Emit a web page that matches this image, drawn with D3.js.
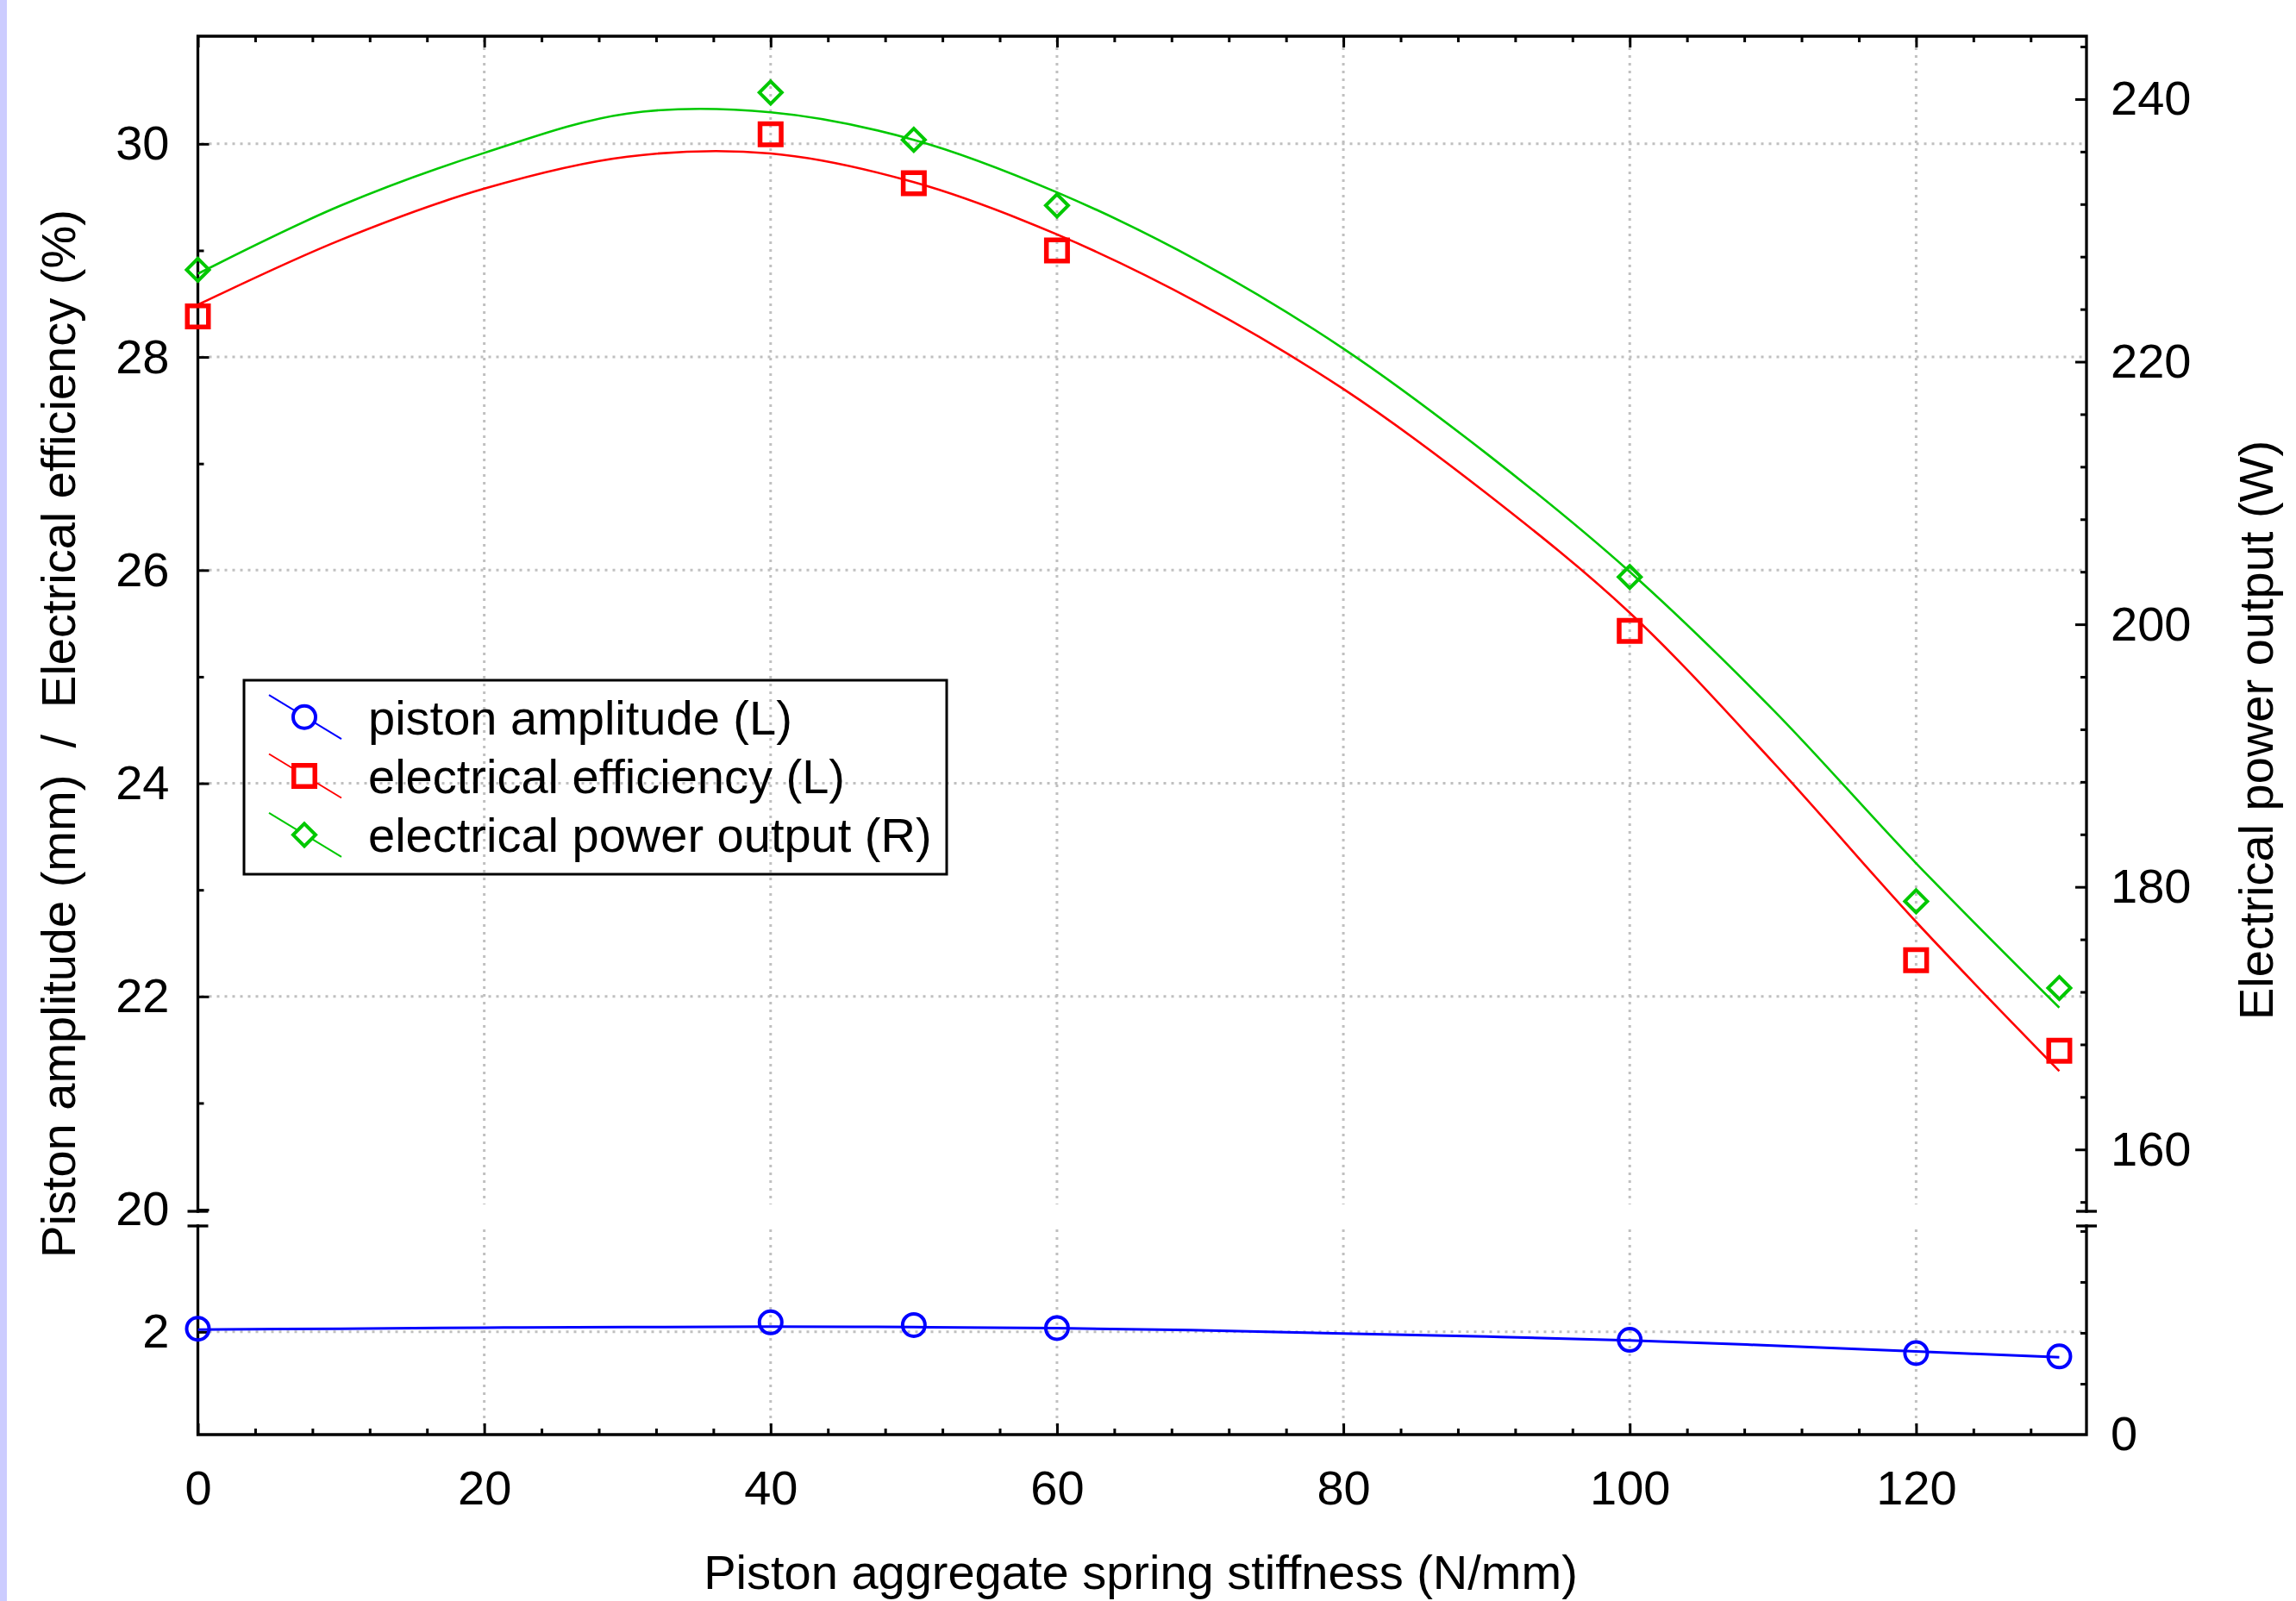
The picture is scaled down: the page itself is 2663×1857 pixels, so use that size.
<!DOCTYPE html>
<html>
<head>
<meta charset="utf-8">
<script src="https://cdn.jsdelivr.net/npm/d3@7"></script>
<style>
  body { margin: 0; background: #fff; }
  svg text { font-family: "Liberation Sans", Arial, sans-serif; }
</style>
</head>
<body>
<script>
// Measured points
const stiffness = [0, 40, 50, 60, 100, 120, 130];
const amplitude = [2.03, 2.09, 2.064, 2.036, 1.925, 1.80, 1.768];
const efficiency = [28.38, 30.09, 29.63, 29.00, 25.43, 22.34, 21.49];
const power = [227.0, 240.5, 236.9, 231.9, 203.6, 178.9, 172.3];

// Fitted curves
const fitX = [0, 10, 20, 30, 40, 50, 60, 70, 80, 90, 100, 110, 120, 130];
const amplitudeFit = [2.022, 2.03, 2.04, 2.045, 2.05, 2.045, 2.035, 2.015, 1.985, 1.955, 1.92, 1.87, 1.815, 1.76];
const efficiencyFit = [28.49, 29.10, 29.58, 29.88, 29.91, 29.64, 29.15, 28.50, 27.70, 26.72, 25.60, 24.20, 22.70, 21.30];
const powerFit = [226.7, 231.9, 235.9, 238.9, 239.0, 236.9, 232.9, 227.6, 221.0, 213.0, 204.0, 193.5, 181.8, 170.8];

// Ticks
const xTicks = [0, 20, 40, 60, 80, 100, 120];
const effTicks = [20, 22, 24, 26, 28, 30];
const powerTicks = [160, 180, 200, 220, 240];
const ampTicks = [2];
const powerLowTicks = [0];

const legendNames = ['piston amplitude (L)', 'electrical efficiency (L)', 'electrical power output (R)'];
const colors = ['#0000ff', '#ff0000', '#00c800'];

// Layout
const plotLeft = 229.5, plotRight = 2420, plotTop = 42;
const upperBottom = 1405, lowerTop = 1422, plotBottom = 1664;
const font = 56;

const svg = d3.select('body')
  .append('svg')
  .attr('width', 2663)
  .attr('height', 1857);

svg.append('rect')
  .attr('width', 8)
  .attr('height', 1857)
  .attr('fill', '#ccccff');

// Scales
const x = d3.scaleLinear().domain([0, 131.9]).range([plotLeft, plotRight]);
const yEff = d3.scaleLinear().domain([19.984, 31.01]).range([upperBottom, plotTop]);
const yPow = d3.scaleLinear().domain([155.29, 244.79]).range([upperBottom, plotTop]);
const yAmp = d3.scaleLinear().domain([1.03, 3]).range([plotBottom, lowerTop]);
const yPowLow = d3.scaleLinear().domain([0, 16.4]).range([plotBottom, lowerTop]);

// Grid
const grid = svg.append('g')
  .attr('stroke', '#c0c0c0')
  .attr('stroke-width', 3)
  .attr('stroke-dasharray', '3,6');

xTicks.filter(d => d > 0).forEach(d => {
  grid.append('line').attr('x1', x(d)).attr('x2', x(d)).attr('y1', plotTop + 4).attr('y2', upperBottom - 8);
  grid.append('line').attr('x1', x(d)).attr('x2', x(d)).attr('y1', lowerTop + 4).attr('y2', plotBottom - 4);
});
effTicks.filter(d => d > 20).forEach(d => {
  grid.append('line').attr('x1', plotLeft + 4).attr('x2', plotRight - 4).attr('y1', yEff(d)).attr('y2', yEff(d));
});
ampTicks.forEach(d => {
  grid.append('line').attr('x1', plotLeft + 4).attr('x2', plotRight - 4).attr('y1', yAmp(d)).attr('y2', yAmp(d));
});

// Axis helper
function styleAxis(g) {
  g.select('.domain').remove();
  g.attr('font-size', font).attr('font-family', null);
  g.selectAll('line').attr('stroke', '#000').attr('stroke-width', 3);
  g.selectAll('text').attr('fill', '#000');
}

const minorX = d3.range(4, 132, 4).filter(d => d % 20 !== 0);
const minorEff = [21, 23, 25, 27, 29];
const minorPow = d3.range(156, 245, 4).filter(d => d % 20 !== 0);
const minorPowLow = [4, 8, 12, 16];

// Bottom and top axes
svg.append('g').attr('transform', `translate(0,${plotBottom})`)
  .call(d3.axisBottom(x).tickValues(xTicks).tickSize(-13).tickPadding(41)).call(styleAxis);
svg.append('g').attr('transform', `translate(0,${plotBottom})`)
  .call(d3.axisBottom(x).tickValues(minorX).tickSize(-7).tickFormat('')).call(styleAxis);
svg.append('g').attr('transform', `translate(0,${plotTop})`)
  .call(d3.axisTop(x).tickValues(xTicks).tickSize(-13).tickFormat('')).call(styleAxis);
svg.append('g').attr('transform', `translate(0,${plotTop})`)
  .call(d3.axisTop(x).tickValues(minorX).tickSize(-7).tickFormat('')).call(styleAxis);

// Left axes
svg.append('g').attr('transform', `translate(${plotLeft},0)`)
  .call(d3.axisLeft(yEff).tickValues(effTicks).tickSize(-13).tickPadding(33)).call(styleAxis);
svg.append('g').attr('transform', `translate(${plotLeft},0)`)
  .call(d3.axisLeft(yEff).tickValues(minorEff).tickSize(-7).tickFormat('')).call(styleAxis);
svg.append('g').attr('transform', `translate(${plotLeft},0)`)
  .call(d3.axisLeft(yAmp).tickValues(ampTicks).tickSize(-13).tickPadding(33).tickFormat(d3.format('d'))).call(styleAxis);

// Right axes
svg.append('g').attr('transform', `translate(${plotRight},0)`)
  .call(d3.axisRight(yPow).tickValues(powerTicks).tickSize(-13).tickPadding(28)).call(styleAxis);
svg.append('g').attr('transform', `translate(${plotRight},0)`)
  .call(d3.axisRight(yPow).tickValues(minorPow).tickSize(-7).tickFormat('')).call(styleAxis);
svg.append('g').attr('transform', `translate(${plotRight},0)`)
  .call(d3.axisRight(yPowLow).tickValues(powerLowTicks).tickSize(0).tickPadding(28)).call(styleAxis);
svg.append('g').attr('transform', `translate(${plotRight},0)`)
  .call(d3.axisRight(yPowLow).tickValues(minorPowLow).tickSize(-7).tickFormat('')).call(styleAxis);

// Frame with axis breaks
svg.append('path')
  .attr('d', `M${plotLeft},${plotTop}H${plotRight}M${plotLeft},${plotBottom}H${plotRight}` +
    `M${plotLeft},${plotTop}V${upperBottom}M${plotLeft},${lowerTop}V${plotBottom}` +
    `M${plotRight},${plotTop}V${upperBottom}M${plotRight},${lowerTop}V${plotBottom}`)
  .attr('fill', 'none')
  .attr('stroke', '#000')
  .attr('stroke-width', 3.3)
  .attr('stroke-linecap', 'square');

[plotLeft, plotRight].forEach(ax => {
  [upperBottom, lowerTop].forEach(by => {
    svg.append('line')
      .attr('x1', ax - 12).attr('x2', ax + 12)
      .attr('y1', by).attr('y2', by)
      .attr('stroke', '#000').attr('stroke-width', 3.3);
  });
});

// Fitted lines
const fits = [
  { values: amplitudeFit, y: yAmp, color: colors[0] },
  { values: efficiencyFit, y: yEff, color: colors[1] },
  { values: powerFit, y: yPow, color: colors[2] }
];
fits.forEach(f => {
  const line = d3.line()
    .x((d, i) => x(fitX[i]))
    .y(d => f.y(d))
    .curve(d3.curveCatmullRom);
  svg.append('path')
    .datum(f.values)
    .attr('d', line)
    .attr('fill', 'none')
    .attr('stroke', f.color)
    .attr('stroke-width', f.y === yAmp ? 3 : 2.6);
});

// Markers
const circlePath = 'M13,0A13,13 0 1,1 -13,0A13,13 0 1,1 13,0Z';
const squarePath = 'M-12.25,-12.25H12.25V12.25H-12.25Z';
const diamondPath = 'M0,-13L13,0L0,13L-13,0Z';

svg.append('g').selectAll('path')
  .data(amplitude).enter().append('path')
  .attr('d', circlePath)
  .attr('transform', (d, i) => `translate(${x(stiffness[i])},${yAmp(d)})`)
  .attr('fill', 'none').attr('stroke', colors[0]).attr('stroke-width', 4);

svg.append('g').selectAll('path')
  .data(efficiency).enter().append('path')
  .attr('d', squarePath)
  .attr('transform', (d, i) => `translate(${x(stiffness[i])},${yEff(d)})`)
  .attr('fill', 'none').attr('stroke', colors[1]).attr('stroke-width', 5.5);

svg.append('g').selectAll('path')
  .data(power).enter().append('path')
  .attr('d', diamondPath)
  .attr('transform', (d, i) => `translate(${x(stiffness[i])},${yPow(d)})`)
  .attr('fill', 'none').attr('stroke', colors[2]).attr('stroke-width', 4);

// Legend
const legend = svg.append('g');
legend.append('rect')
  .attr('x', 283).attr('y', 789).attr('width', 815).attr('height', 225)
  .attr('fill', 'none').attr('stroke', '#000').attr('stroke-width', 3);

const markerPaths = [circlePath, squarePath, diamondPath];
const markerWidths = [4, 5.5, 4];
legendNames.forEach((name, i) => {
  const cy = 831.7 + i * 68.3;
  legend.append('line')
    .attr('x1', 312).attr('y1', cy - 25.5).attr('x2', 396).attr('y2', cy + 25.5)
    .attr('stroke', colors[i]).attr('stroke-width', 2);
  legend.append('path')
    .attr('d', markerPaths[i])
    .attr('transform', `translate(353,${cy})`)
    .attr('fill', '#fff').attr('stroke', colors[i]).attr('stroke-width', markerWidths[i]);
  legend.append('text')
    .attr('x', 427).attr('y', cy + 20)
    .attr('font-size', font)
    .text(name);
});

// Axis titles
svg.append('text')
  .attr('x', 1323).attr('y', 1843)
  .attr('text-anchor', 'middle')
  .attr('font-size', font)
  .text('Piston aggregate spring stiffness (N/mm)');

svg.append('text')
  .attr('transform', 'translate(87,851) rotate(-90)')
  .attr('text-anchor', 'middle')
  .attr('font-size', font)
  .style('white-space', 'pre')
  .text('Piston amplitude (mm)  /  Electrical efficiency (%)');

svg.append('text')
  .attr('transform', 'translate(2636,847) rotate(-90)')
  .attr('text-anchor', 'middle')
  .attr('font-size', font)
  .text('Electrical power output (W)');
</script>
</body>
</html>
